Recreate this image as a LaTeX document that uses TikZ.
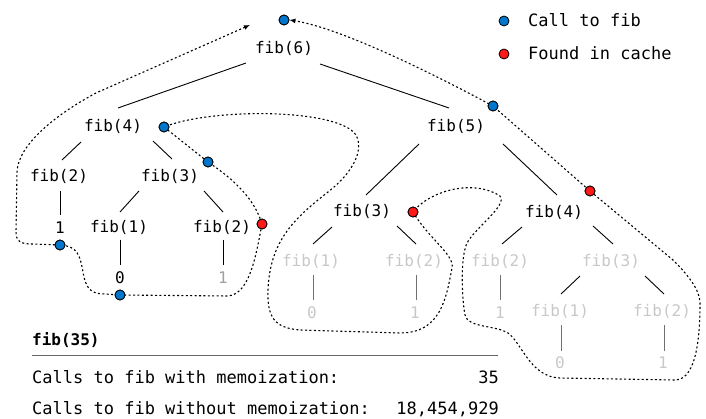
\documentclass[tikz,border=0pt]{standalone}
\usepackage{fontspec}
\setmonofont{DejaVu Sans Mono}
\usetikzlibrary{arrows.meta,calc}
\definecolor{callblue}{RGB}{0,119,204}
\definecolor{cachered}{RGB}{255,26,26}
\definecolor{faded}{RGB}{200,200,200}
\definecolor{midgrey}{RGB}{160,160,160}
\definecolor{stemgrey}{RGB}{112,112,112}
\begin{document}
\begin{tikzpicture}[x=1pt,y=-1pt,
  lbl/.style={font=\fontsize{16}{19}\selectfont\ttfamily, inner sep=0pt},
  ghost/.style={lbl, text=faded},
  edge/.style={line width=0.9pt},
  stem/.style={edge, draw=stemgrey},
  dot/.style={circle, draw=black, line width=0.8pt, minimum size=10pt, inner sep=0pt},
  calldot/.style={dot, fill=callblue},
  cachedot/.style={dot, fill=cachered},
  trace/.style={line width=1.1pt, dash pattern=on 2pt off 2.4pt,
    >={Latex[length=6pt,width=5pt]}, <->},
  info/.style={font=\fontsize{17}{20}\selectfont\ttfamily, inner sep=0pt},
]
\path[use as bounding box] (0,0) rectangle (706,419);

% call tree labels
\node[lbl] (n6)  at (284,48)  {fib(6)};
\node[lbl] (n4)  at (113,126) {fib(4)};
\node[lbl] (n5)  at (456,126) {fib(5)};
\node[lbl] (n2a) at (59,176)  {fib(2)};
\node[lbl] (n3a) at (170,176) {fib(3)};
\node[lbl] (v1a) at (60,228)  {1};
\node[lbl] (n1a) at (119,227) {fib(1)};
\node[lbl] (n2b) at (222,227) {fib(2)};
\node[lbl] (v0a) at (120,278) {0};
\node[lbl, text=midgrey] (v1b) at (223,278) {1};
\node[lbl] (n3b) at (362,211) {fib(3)};
\node[lbl] (n4b) at (554,212) {fib(4)};
\node[ghost] (g1a)  at (311,261) {fib(1)};
\node[ghost] (g2a)  at (414,261) {fib(2)};
\node[ghost] (g2b)  at (500,261) {fib(2)};
\node[ghost] (g3a)  at (611,261) {fib(3)};
\node[ghost] (gv0a) at (312,313) {0};
\node[ghost] (gv1a) at (415,313) {1};
\node[ghost] (gv1b) at (500,313) {1};
\node[ghost] (g1b)  at (560,311) {fib(1)};
\node[ghost] (g2c)  at (662,311) {fib(2)};
\node[ghost] (gv0b) at (560,363) {0};
\node[ghost] (gv1c) at (663,363) {1};

% tree edges
\draw[edge] ($(n6)+(-38,15)$) -- ($(n4)+(5,-18)$);
\draw[edge] ($(n6)+(36,16)$) -- ($(n5)+(-7,-18)$);
\draw[edge] ($(n4)+(-32,16)$) -- ($(n2a)+(3,-16)$);
\draw[edge] ($(n4)+(40,15)$) -- ($(n3a)+(2,-17)$);
\draw[edge] ($(n2a)+(1,15)$) -- ($(v1a)+(0,-13)$);
\draw[edge] ($(n3a)+(-31,15)$) -- ($(n1a)+(1,-15)$);
\draw[edge] ($(n3a)+(34,15)$) -- ($(n2b)+(1,-15)$);
\draw[edge] ($(n1a)+(1,13)$) -- ($(v0a)+(0,-13)$);
\draw[edge] ($(n2b)+(1,13)$) -- ($(v1b)+(0,-13)$);
\draw[edge] ($(n5)+(-37,18)$) -- ($(n3b)+(4,-16)$);
\draw[edge] ($(n5)+(47,18)$) -- ($(n4b)+(3,-17)$);
\draw[edge] ($(n3b)+(-30,16)$) -- ($(g1a)+(2,-17)$);
\draw[edge] ($(n3b)+(35,15)$) -- ($(g2a)+(2,-17)$);
\draw[stem] ($(g1a)+(2,14)$) -- ($(gv0a)+(1,-13)$);
\draw[stem] ($(g2a)+(2,14)$) -- ($(gv1a)+(1,-13)$);
\draw[edge] ($(n4b)+(-32,15)$) -- ($(g2b)+(2,-17)$);
\draw[edge] ($(n4b)+(39,14)$) -- ($(g3a)+(2,-17)$);
\draw[stem] ($(g2b)+(0,14)$) -- ($(gv1b)+(0,-13)$);
\draw[edge] ($(g3a)+(-31,15)$) -- ($(g1b)+(1,-17)$);
\draw[edge] ($(g3a)+(34,15)$) -- ($(g2c)+(2,-17)$);
\draw[stem] ($(g1b)+(1,14)$) -- ($(gv0b)+(1,-12)$);
\draw[stem] ($(g2c)+(2,14)$) -- ($(gv1c)+(1,-12)$);

% call markers
\node[calldot]  (c6)  at (284,20)  {};
\node[calldot]  (c4)  at (164,127) {};
\node[calldot]  (c3)  at (208,162) {};
\node[cachedot] (cf2) at (262,224) {};
\node[calldot]  (c1)  at (60,245)  {};
\node[calldot]  (c0)  at (120,295) {};
\node[calldot]  (c5)  at (493,106) {};
\node[cachedot] (cf4) at (590,191) {};
\node[cachedot] (cf3) at (413,212) {};
\coordinate (tracestart) at (250,25);

% evaluation order trace
\draw[trace] (tracestart) -- (96,93)
  .. controls (55,115) and (18,145) .. (17,172) -- (16,232)
  .. controls (16,241) and (20,244) .. (32,244) -- (c1.center)
  .. controls (78,246) and (80,256) .. (83,272)
  .. controls (86,290) and (92,294) .. (105,294) -- (c0.center) -- (228,296)
  .. controls (250,294) and (256,255) .. (cf2.center)
  .. controls (255,200) and (235,180) .. (c3.center) -- (c4.center)
  .. controls (210,108) and (338,108) .. (356,135)
  .. controls (365,152) and (350,175) .. (328,192)
  .. controls (295,218) and (270,240) .. (268,290)
  .. controls (267,318) and (275,328) .. (300,330) -- (400,333)
  .. controls (440,333) and (446,300) .. (452,268)
  .. controls (455,255) and (428,238) .. (cf3.center)
  .. controls (428,192) and (472,178) .. (500,196)
  .. controls (508,205) and (475,228) .. (467,243)
  .. controls (460,258) and (462,300) .. (465,315)
  .. controls (468,328) and (495,325) .. (508,333)
  .. controls (522,343) and (530,377) .. (560,378) -- (675,380)
  .. controls (698,380) and (700,330) .. (700,303)
  .. controls (700,290) and (688,275) .. (673,260) -- (cf4.center) -- (c5.center)
  .. controls (430,72) and (340,28) .. (c6.east);

% redraw markers above the trace
\foreach \m/\s in {c6/calldot,c4/calldot,c3/calldot,c1/calldot,c0/calldot,c5/calldot,cf2/cachedot,cf3/cachedot,cf4/cachedot}
  \node[\s] at (\m) {};

% legend
\node[calldot] (lgcall) at (504,21) {};
\node[info, anchor=base west] (lgcalltxt) at (528,27) {Call to fib};
\node[cachedot] (lgcache) at (504,54) {};
\node[info, anchor=base west] (lgcachetxt) at (528,60) {Found in cache};

% summary table
\node[info, font=\fontsize{16}{19}\selectfont\ttfamily\bfseries, anchor=base west] (title) at (32,345) {fib(35)};
\draw[line width=1pt, draw=black!60] (32,355) -- (498,355);
\node[info, anchor=base west] (memo) at (32,383) {Calls to fib with memoization:};
\node[info, anchor=base east] (memoval) at (499,383) {35};
\node[info, anchor=base west] (plain) at (32,414) {Calls to fib without memoization:};
\node[info, anchor=base east] (plainval) at (499,414) {18,454,929};
\end{tikzpicture}
\end{document}
